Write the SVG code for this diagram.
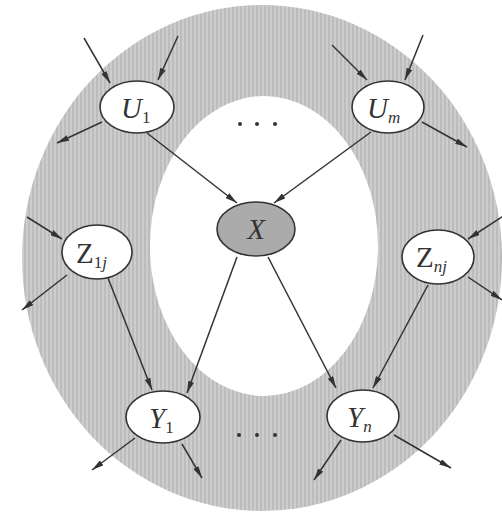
<svg xmlns="http://www.w3.org/2000/svg" width="502" height="516" viewBox="0 0 502 516">
<style>
.node ellipse{fill:#ffffff;stroke:#333;stroke-width:1.6}
#X ellipse{fill:#ababab}
.lbl{font-family:"Liberation Serif",serif;font-style:italic;font-size:29px;fill:#333}
.sub{font-size:17px}
.rm{font-style:normal}
.edges line{stroke:#333;stroke-width:1.5;marker-end:url(#ah)}
.dot{fill:#333}
</style>
<defs>
<pattern id="stripe" width="4" height="4" patternUnits="userSpaceOnUse">
<rect width="4" height="4" fill="#cdcdcd"/>
<rect width="2" height="4" fill="#bcbcbc"/>
</pattern>
<marker id="ah" viewBox="0 0 12 6" refX="12" refY="3" markerWidth="12" markerHeight="6" markerUnits="userSpaceOnUse" orient="auto">
<path d="M0,0 L12,3 L0,6 Z" fill="#333"/>
</marker>
</defs>
<rect width="502" height="516" fill="#fff"/>
<g id="band">
<ellipse cx="262" cy="258" rx="240" ry="253" fill="url(#stripe)"/>
<ellipse cx="264" cy="246" rx="114" ry="150" fill="#fff"/>
</g>
<g id="dots">
<circle class="dot" cx="240" cy="124" r="2"/>
<circle class="dot" cx="257" cy="124" r="2"/>
<circle class="dot" cx="275" cy="124" r="2"/>
<circle class="dot" cx="239" cy="435" r="2"/>
<circle class="dot" cx="257" cy="435" r="2"/>
<circle class="dot" cx="275" cy="435" r="2"/>
</g>
<g class="edges">
<line x1="84" y1="38" x2="110" y2="83"/>
<line x1="178" y1="36" x2="158" y2="80"/>
<line x1="102" y1="122" x2="57" y2="143"/>
<line x1="147" y1="133" x2="237" y2="203"/>
<line x1="332" y1="45" x2="367" y2="80"/>
<line x1="423" y1="35" x2="405" y2="80"/>
<line x1="422" y1="122" x2="467" y2="147"/>
<line x1="371" y1="132" x2="274" y2="203"/>
<line x1="27" y1="217" x2="62" y2="239"/>
<line x1="67" y1="275" x2="22" y2="310"/>
<line x1="108" y1="278" x2="152" y2="390"/>
<line x1="505" y1="215" x2="468" y2="239"/>
<line x1="468" y1="277" x2="502" y2="300"/>
<line x1="428" y1="285" x2="373" y2="388"/>
<line x1="237" y1="257" x2="187" y2="393"/>
<line x1="268" y1="257" x2="336" y2="388"/>
<line x1="135" y1="438" x2="92" y2="470"/>
<line x1="182" y1="444" x2="202" y2="478"/>
<line x1="341" y1="440" x2="314" y2="480"/>
<line x1="394" y1="435" x2="451" y2="468"/>
</g>
<g id="U1" class="node"><ellipse cx="137" cy="107" rx="37" ry="26"/><text class="lbl" x="121" y="118">U<tspan class="sub rm" dy="5">1</tspan></text></g>
<g id="Um" class="node"><ellipse cx="388" cy="107" rx="36" ry="26"/><text class="lbl" x="367" y="118">U<tspan class="sub" dy="5">m</tspan></text></g>
<g id="X" class="node"><ellipse cx="256" cy="229" rx="39" ry="27"/><text class="lbl" x="256" y="239" text-anchor="middle">X</text></g>
<g id="Z1j" class="node"><ellipse cx="97" cy="252" rx="35" ry="27"/><text class="lbl rm" x="76" y="263">Z<tspan class="sub" dy="5">1<tspan font-style="italic">j</tspan></tspan></text></g>
<g id="Znj" class="node"><ellipse cx="438" cy="257" rx="36" ry="27"/><text class="lbl rm" x="416" y="267">Z<tspan class="sub" dy="5" font-style="italic">nj</tspan></text></g>
<g id="Y1" class="node"><ellipse cx="163" cy="417" rx="37" ry="26"/><text class="lbl" x="149" y="428">Y<tspan class="sub rm" dy="5">1</tspan></text></g>
<g id="Yn" class="node"><ellipse cx="363" cy="416" rx="36" ry="26"/><text class="lbl" x="347" y="427">Y<tspan class="sub" dy="5">n</tspan></text></g>
</svg>
